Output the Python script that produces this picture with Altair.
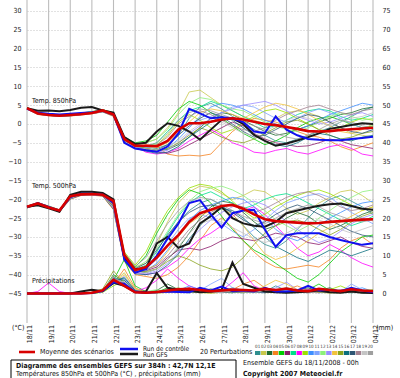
import altair as alt
import pandas as pd

# ---------------- data ----------------
DAY_LABELS = ["18/11", "19/11", "20/11", "21/11", "22/11", "23/11", "24/11", "25/11", "26/11",
              "27/11", "28/11", "29/11", "30/11", "01/12", "02/12", "03/12", "04/12"]
STEP_HOURS = 12
PREC_ZERO = -45  # 0 mm of precipitation sits on the -45 line of the temperature scale

MEMBER_NAMES = ["01", "02", "03", "04", "05", "06", "07", "08", "09", "10",
                "11", "12", "13", "14", "15", "16", "17", "18", "19", "20"]
MEMBER_COLORS = ["#2f8f8f", "#c8c84b", "#1f6b2f", "#f5821f", "#00cc00", "#8b1a6b", "#00e08a",
                 "#ff00ff", "#9be000", "#3f8fff", "#7fa3ff", "#8cf07a", "#9a8cff", "#f0c23c",
                 "#8aa41e", "#0a6f7f", "#2e5573", "#a3808f", "#c4c4c4", "#9f9f9f"]

MEAN_T850 = [4.2, 2.8, 2.4, 2.2, 2.4, 2.6, 2.9, 3.6, 2.5,
             -4.0, -5.8, -5.8, -5.9, -4.5, -1.5, 0.2, 0.2,
             0.6, 1.2, 1.5, 1.2, 0.6, 0.0, -0.3, -0.8,
             -1.3, -1.9, -2.0, -1.9, -1.6, -1.4, -1.2, -1.0]
CTRL_T850 = [4.0, 3.0, 2.7, 2.5, 2.7, 2.9, 3.1, 3.5, 2.5,
             -5.0, -6.5, -7.0, -7.4, -6.0, -2.5, 4.0, 2.8,
             1.5, 1.8, 1.5, 0.5, -2.0, -2.4, 2.0, -1.5,
             -3.0, -4.0, -4.2, -4.3, -4.3, -4.0, -3.7, -3.4]
GFS_T850 = [4.2, 3.5, 3.6, 3.4, 3.7, 4.3, 4.5, 3.6, 3.0,
            -3.5, -5.3, -5.0, -2.0, 0.2, -0.5, -2.0, -4.2,
            -1.5, 1.1, 1.5, 0.0, -2.9, -4.5, -5.8, -5.2,
            -4.4, -3.5, -2.5, -1.3, -0.8, -0.3, 0.2, 0.0]

MEAN_T500 = [-22.0, -21.1, -22.2, -23.0, -19.2, -18.7, -18.6, -18.8, -20.5,
             -34.8, -38.8, -38.0, -35.5, -32.3, -29.5, -26.0, -23.7,
             -22.8, -21.8, -21.5, -22.5, -24.0, -25.3, -25.8, -26.0,
             -26.2, -26.4, -26.3, -26.0, -25.8, -25.6, -25.4, -25.3]
CTRL_T500 = [-22.0, -21.0, -22.0, -23.0, -19.4, -18.5, -18.5, -18.8, -21.0,
             -36.0, -39.5, -38.5, -35.0, -30.5, -26.5, -21.0, -20.2,
             -24.0, -27.5, -23.7, -23.0, -22.8, -28.0, -32.6, -29.5,
             -29.0, -29.0, -29.0, -30.0, -30.8, -31.5, -32.1, -31.7]
GFS_T500 = [-22.0, -21.6, -22.4, -23.3, -18.8, -18.0, -18.0, -18.3, -20.0,
            -35.5, -38.5, -38.5, -31.7, -30.0, -32.9, -31.7, -26.4,
            -24.5, -22.0, -25.0, -26.4, -27.0, -27.3, -26.0, -23.7,
            -23.0, -22.3, -21.7, -21.3, -21.1, -21.8, -22.5, -22.8]

MEAN_PREC = [0, 0, 0, 0, 0, 0, 0.2, 0.8, 3.6,
             2.0, 0.3, 0.2, 0.4, 0.8, 1.1, 1.2, 0.9,
             0.6, 0.8, 1.0, 0.9, 0.8, 1.2, 0.9, 1.3,
             0.8, 0.6, 1.2, 0.9, 0.6, 1.1, 0.8, 0.6]
CTRL_PREC = [0, 0, 0, 0, 0, 0, 0.1, 0.6, 3.0,
             2.5, 0.4, 0.2, 0.3, 0.5, 0.4, 0.3, 1.5,
             0.8, 1.8, 0.6, 0.8, 0.5, 1.5, 0.5, 0.5,
             0.8, 2.0, 0.8, 1.0, 0.6, 1.5, 0.8, 0.3]
GFS_PREC = [0, 0, 0, 0, 0, 0.5, 1.0, 0.6, 2.8,
            2.0, 0.3, 0.5, 5.4, 1.5, 1.0, 0.8, 0.3,
            0.5, 1.0, 8.2, 2.5, 1.5, 0.5, 0.3, 0.2,
            0.3, 0.5, 0.8, 0.3, 0.2, 0.5, 0.2, 0.1]

PERT_T850 = [
    [4.0, 2.6, 2.3, 2.0, 2.2, 2.5, 2.8, 3.3, 2.2, -4.5, -6.0, -6.2, -6.5, -5.5, -3.0, 1.5, 4.5, 5.5, 4.0, 2.0, 0.5, -1.5, -3.0, -4.5, -5.0, -4.0, -3.0, -2.0, -1.0, 0.5, 2.0, 3.5, 4.5],
    [4.1, 2.8, 2.5, 2.1, 2.3, 2.6, 3.0, 3.6, 2.8, -3.8, -5.5, -5.0, -4.0, -1.0, 3.0, 8.5, 9.0, 7.0, 5.0, 3.5, 2.0, 1.0, 0.0, 1.5, 3.0, 3.5, 3.0, 2.0, 0.5, -1.0, -2.5, -3.0, -3.5],
    [4.3, 2.9, 2.6, 2.3, 2.5, 2.8, 3.1, 3.5, 2.6, -4.2, -5.8, -6.5, -7.0, -6.8, -5.5, -3.5, -1.0, 1.5, 3.0, 2.5, 1.0, -0.5, -2.0, -3.0, -2.5, -1.5, -0.5, 0.5, 1.5, 2.5, 3.0, 4.0, 4.5],
    [4.0, 2.5, 2.2, 2.0, 2.1, 2.4, 2.7, 3.2, 2.0, -5.0, -6.5, -5.5, -6.0, -8.0, -8.5, -8.3, -8.5, -8.0, -5.0, -2.0, 0.0, 1.5, 1.0, 0.5, -0.5, -2.0, -3.0, -3.5, -4.5, -6.0, -7.0, -6.0, -5.0],
    [4.4, 3.0, 2.7, 2.4, 2.6, 2.9, 3.3, 3.8, 3.0, -3.5, -5.0, -4.5, -3.0, 0.5, 4.0, 6.0, 5.0, 3.0, 1.5, -0.5, -2.5, -4.0, -5.5, -4.5, -3.0, -1.0, 0.5, 1.5, 2.0, 1.0, 0.0, -1.0, -0.5],
    [4.2, 2.7, 2.4, 2.2, 2.4, 2.7, 3.0, 3.4, 2.4, -4.8, -6.2, -6.8, -7.5, -7.8, -7.0, -5.5, -4.0, -2.5, -1.0, 0.5, -0.5, -2.5, -4.0, -5.0, -5.5, -6.0, -5.8, -5.0, -4.0, -4.5, -5.5, -6.0, -6.5],
    [4.1, 2.8, 2.5, 2.2, 2.4, 2.6, 2.9, 3.4, 2.5, -4.0, -5.5, -6.0, -5.0, -2.0, 1.0, 3.5, 4.5, 6.0, 5.0, 3.5, 2.0, 0.5, -1.0, -0.5, 1.0, 2.5, 3.5, 4.0, 3.5, 2.0, 1.0, 1.5, 2.5],
    [4.0, 2.6, 2.4, 2.1, 2.3, 2.5, 2.8, 3.3, 2.3, -4.5, -6.0, -7.5, -8.0, -7.5, -6.5, -4.5, -3.0, -1.5, -3.0, -5.0, -6.0, -7.5, -7.8, -7.0, -6.5, -7.5, -8.0, -7.0, -6.0, -5.5, -6.5, -8.0, -8.5],
    [4.3, 2.9, 2.6, 2.3, 2.4, 2.8, 3.2, 3.7, 2.7, -3.9, -5.6, -5.8, -5.5, -3.0, 0.5, 2.5, 1.0, -1.0, -2.5, -1.5, 0.5, 2.0, 3.5, 4.0, 3.0, 1.5, 0.0, -1.5, -2.0, -1.0, 0.5, 1.5, 1.0],
    [4.2, 2.8, 2.5, 2.2, 2.4, 2.7, 3.0, 3.5, 2.6, -4.6, -6.3, -7.0, -7.2, -6.5, -4.0, -1.0, 2.0, 4.5, 5.5, 5.0, 4.0, 2.5, 1.0, 0.0, -1.0, -1.5, -0.5, 1.0, 2.5, 3.5, 4.5, 5.5, 5.0],
    [4.0, 2.7, 2.3, 2.1, 2.2, 2.6, 2.9, 3.3, 2.4, -4.3, -6.0, -6.3, -6.0, -4.5, -2.0, 0.0, 1.0, 2.0, 3.0, 4.5, 5.0, 4.5, 3.0, 1.5, 0.5, 1.5, 3.0, 4.0, 3.0, 1.5, 0.0, -1.0, -2.0],
    [4.4, 2.9, 2.6, 2.3, 2.5, 2.8, 3.2, 3.6, 2.8, -3.7, -5.3, -5.0, -4.0, -1.5, 2.5, 5.5, 7.0, 6.5, 5.0, 4.0, 3.5, 2.0, 0.5, -0.5, -1.5, -2.0, -1.0, 0.5, 2.0, 3.0, 2.0, 1.0, 1.5],
    [4.1, 2.7, 2.4, 2.1, 2.3, 2.6, 2.9, 3.4, 2.3, -4.7, -6.4, -7.0, -7.5, -7.0, -5.0, -2.5, -0.5, 1.5, 3.0, 4.0, 5.0, 5.5, 6.0, 5.0, 3.5, 2.0, 1.0, 0.0, 0.5, 1.5, 2.5, 3.0, 2.0],
    [4.2, 2.8, 2.5, 2.2, 2.4, 2.7, 3.0, 3.5, 2.5, -4.2, -5.8, -6.0, -6.2, -5.0, -2.5, 0.5, 3.0, 4.0, 3.5, 2.5, 1.5, 3.0, 4.5, 5.5, 5.0, 4.0, 2.5, 1.0, -0.5, -2.0, -2.5, -1.5, 0.0],
    [4.3, 2.9, 2.6, 2.3, 2.5, 2.8, 3.1, 3.6, 2.7, -4.0, -5.7, -6.5, -7.0, -6.5, -5.0, -3.0, -1.0, -2.0, -3.5, -4.5, -5.0, -4.0, -2.5, -1.0, 0.5, 1.0, 0.0, -1.5, -3.0, -4.0, -3.5, -2.5, -2.0],
    [4.0, 2.6, 2.3, 2.0, 2.2, 2.5, 2.8, 3.2, 2.2, -4.8, -6.5, -7.2, -7.8, -7.5, -6.0, -3.5, -1.5, 0.5, 2.0, 1.0, -1.0, -3.0, -4.5, -5.5, -6.0, -5.0, -3.5, -2.5, -3.0, -4.0, -4.5, -3.5, -3.0],
    [4.1, 2.7, 2.4, 2.1, 2.3, 2.6, 2.9, 3.3, 2.4, -4.4, -6.0, -6.8, -7.0, -5.5, -3.0, -0.5, 1.5, 3.0, 2.0, 0.0, -2.0, -3.5, -3.0, -1.5, 0.0, 1.5, 2.5, 2.0, 0.5, -1.0, -2.0, -2.5, -1.5],
    [4.2, 2.8, 2.5, 2.2, 2.4, 2.7, 3.0, 3.4, 2.5, -4.1, -5.6, -6.0, -5.5, -3.5, 0.0, 2.0, 3.5, 2.5, 1.0, -0.5, -1.5, -2.0, -1.0, 1.0, 2.5, 3.5, 4.5, 5.0, 4.0, 3.0, 2.5, 3.5, 4.0],
    [4.0, 2.6, 2.3, 2.1, 2.2, 2.5, 2.8, 3.2, 2.3, -4.6, -6.2, -6.6, -7.0, -6.0, -4.5, -2.0, 0.0, 1.0, 0.5, -1.0, -2.5, -3.0, -2.0, -0.5, 1.0, 2.0, 1.5, 0.5, -0.5, 0.5, 1.5, 2.0, 3.0],
    [4.3, 2.9, 2.6, 2.3, 2.5, 2.8, 3.1, 3.5, 2.6, -4.0, -5.5, -5.8, -5.0, -2.5, 1.0, 3.0, 4.0, 3.5, 2.5, 1.5, 0.5, -0.5, -1.5, -2.5, -3.5, -4.0, -3.0, -1.5, 0.0, 1.0, 0.5, -0.5, -1.0],
]

PERT_T500 = [
    [-22.2, -21.3, -22.3, -23.3, -19.8, -18.8, -18.7, -19.0, -22.5, -36.0, -39.5, -38.5, -35.0, -30.0, -26.0, -23.0, -21.0, -20.0, -21.5, -24.0, -27.0, -30.0, -32.0, -33.0, -31.0, -28.0, -25.0, -22.0, -20.0, -19.0, -20.5, -22.0, -24.0],
    [-21.8, -21.0, -21.8, -22.8, -19.2, -18.3, -18.4, -18.6, -20.8, -34.0, -38.0, -37.0, -32.0, -26.0, -21.0, -18.0, -16.5, -17.0, -18.5, -20.0, -19.0, -17.5, -18.0, -20.0, -22.5, -24.0, -23.0, -21.0, -19.5, -18.0, -17.5, -19.0, -21.0],
    [-22.0, -21.2, -22.1, -23.1, -19.6, -18.7, -18.6, -18.9, -21.8, -35.5, -39.0, -39.5, -38.5, -36.0, -33.0, -29.0, -25.0, -22.0, -20.5, -21.0, -23.5, -26.0, -28.0, -27.0, -25.0, -23.5, -24.5, -26.5, -28.0, -27.0, -25.5, -24.0, -23.0],
    [-22.3, -21.4, -22.2, -23.4, -20.0, -19.0, -18.9, -19.2, -22.8, -36.5, -40.0, -40.5, -41.0, -40.0, -38.0, -35.0, -31.0, -27.0, -25.0, -27.5, -31.0, -34.0, -36.5, -38.0, -38.5, -38.0, -37.5, -38.0, -36.0, -33.0, -31.0, -30.0, -32.0],
    [-21.9, -21.0, -21.9, -22.9, -19.3, -18.4, -18.3, -18.5, -21.0, -34.5, -38.0, -35.0, -29.0, -24.0, -20.0, -17.5, -18.5, -21.0, -24.5, -28.0, -31.0, -33.5, -35.0, -37.0, -39.0, -41.0, -42.0, -40.0, -37.0, -34.0, -32.0, -30.0, -29.5],
    [-22.1, -21.2, -22.0, -23.1, -19.7, -18.8, -18.6, -18.9, -22.2, -35.8, -39.2, -39.0, -38.0, -35.5, -33.5, -33.0, -33.5, -32.5, -31.0, -30.0, -30.5, -31.0, -30.0, -29.0, -29.5, -30.0, -31.5, -32.0, -31.0, -30.0, -31.5, -32.5, -33.0],
    [-22.0, -21.1, -22.0, -23.0, -19.4, -18.5, -18.5, -18.7, -21.4, -35.0, -38.6, -37.5, -34.0, -29.0, -24.5, -21.0, -19.0, -18.0, -19.5, -21.0, -22.5, -21.5, -20.0, -19.0, -18.5, -19.5, -21.0, -22.5, -24.0, -25.5, -27.0, -26.0, -24.5],
    [-22.2, -21.3, -22.2, -23.2, -19.8, -18.8, -18.8, -19.0, -22.4, -36.0, -39.5, -40.0, -39.5, -38.0, -36.0, -33.0, -30.5, -29.0, -27.0, -24.5, -23.0, -22.0, -24.0, -27.0, -30.0, -33.0, -35.0, -34.0, -32.0, -33.5, -35.5, -37.0, -38.0],
    [-21.8, -20.9, -21.8, -22.8, -19.1, -18.2, -18.3, -18.5, -20.6, -34.0, -37.5, -34.0, -28.0, -23.0, -19.5, -17.0, -16.0, -16.5, -18.0, -20.5, -23.0, -25.0, -24.0, -22.0, -20.5, -19.0, -18.0, -17.5, -18.5, -20.0, -21.5, -23.0, -22.0],
    [-22.1, -21.2, -22.1, -23.1, -19.6, -18.7, -18.7, -18.9, -22.0, -35.6, -39.2, -39.0, -37.0, -33.5, -29.5, -25.5, -23.0, -21.5, -20.5, -19.5, -20.0, -22.0, -25.0, -28.0, -30.0, -31.0, -29.5, -27.0, -25.0, -23.5, -22.0, -21.0, -20.5],
    [-22.0, -21.1, -22.0, -23.0, -19.5, -18.6, -18.6, -18.8, -21.6, -35.2, -38.8, -38.5, -36.0, -32.0, -28.0, -25.0, -24.0, -25.0, -26.5, -28.5, -30.0, -28.0, -25.5, -23.0, -21.0, -20.0, -19.0, -18.5, -19.5, -21.5, -23.5, -25.0, -26.5],
    [-21.9, -21.0, -21.9, -22.9, -19.3, -18.4, -18.4, -18.6, -21.2, -34.8, -38.2, -36.5, -33.0, -28.5, -24.0, -20.5, -18.0, -17.0, -16.5, -17.5, -19.0, -21.0, -23.0, -25.5, -27.0, -28.5, -27.0, -25.0, -23.0, -21.0, -19.5, -18.0, -17.5],
    [-22.2, -21.3, -22.2, -23.2, -19.7, -18.8, -18.7, -19.0, -22.3, -35.9, -39.4, -39.8, -39.0, -37.0, -34.0, -31.0, -28.0, -25.5, -23.5, -22.0, -21.0, -20.5, -21.5, -23.5, -26.0, -28.0, -30.0, -31.5, -30.5, -28.5, -26.5, -25.0, -24.0],
    [-22.0, -21.1, -22.0, -23.0, -19.4, -18.5, -18.5, -18.8, -21.5, -35.3, -38.9, -38.5, -37.5, -34.0, -30.0, -26.5, -24.5, -23.0, -22.5, -24.0, -27.0, -31.0, -34.5, -36.0, -35.0, -33.0, -31.0, -29.0, -27.5, -26.0, -24.5, -23.0, -22.0],
    [-22.1, -21.2, -22.1, -23.1, -19.6, -18.7, -18.6, -18.9, -22.0, -35.6, -39.1, -39.2, -38.5, -36.5, -35.0, -36.0, -37.5, -38.5, -39.0, -38.0, -35.5, -32.0, -29.0, -27.0, -26.0, -25.5, -26.5, -28.0, -29.5, -28.0, -26.0, -24.5, -23.5],
    [-22.3, -21.4, -22.3, -23.3, -19.9, -18.9, -18.8, -19.1, -22.6, -36.2, -39.8, -40.0, -39.5, -37.5, -34.5, -30.5, -27.0, -24.0, -22.5, -23.0, -25.0, -27.5, -30.0, -32.5, -34.0, -35.5, -36.5, -35.0, -33.5, -34.0, -35.0, -34.0, -33.0],
    [-21.9, -21.0, -21.9, -22.9, -19.3, -18.4, -18.4, -18.7, -21.3, -34.9, -38.4, -37.0, -33.5, -29.5, -26.0, -23.5, -22.0, -21.5, -22.0, -23.5, -25.5, -27.0, -26.0, -24.0, -22.5, -21.5, -22.5, -24.0, -25.5, -27.0, -28.5, -29.5, -30.0],
    [-22.0, -21.1, -22.0, -23.0, -19.5, -18.6, -18.6, -18.8, -21.7, -35.4, -39.0, -38.8, -37.5, -35.0, -31.5, -28.0, -25.5, -23.5, -22.0, -21.5, -22.0, -23.5, -22.5, -21.0, -19.5, -18.5, -18.0, -19.0, -20.5, -22.0, -23.0, -22.5, -21.5],
    [-22.2, -21.3, -22.2, -23.2, -19.8, -18.8, -18.8, -19.0, -22.4, -36.0, -39.6, -39.5, -38.5, -36.0, -32.5, -29.0, -26.5, -25.5, -26.0, -27.5, -29.0, -30.5, -31.5, -30.5, -29.0, -27.5, -26.0, -25.5, -26.5, -28.0, -29.0, -28.0, -27.0],
    [-21.8, -20.9, -21.8, -22.8, -19.2, -18.3, -18.3, -18.6, -20.9, -34.3, -37.8, -35.5, -31.0, -26.5, -23.0, -20.5, -19.5, -20.0, -21.5, -23.0, -24.5, -25.5, -26.5, -25.0, -23.5, -22.5, -21.5, -22.0, -23.5, -24.5, -25.5, -26.0, -25.5],
]

PERT_PREC = [
    [0, 0, 0, 0, 0, 0, 0.2, 0.8, 4.0, 2.0, 0.3, 0, 0.2, 0.5, 0.3, 0.8, 0.5, 0.2, 0.5, 1.5, 0.8, 0.3, 0.5, 2.0, 0.8, 0.3, 0.2, 0.5, 1.0, 0.5, 0.2, 0.3, 0.5],
    [0, 0, 0, 0, 0, 0, 0.1, 0.5, 3.0, 5.5, 1.0, 0.2, 0, 0.3, 1.0, 0.5, 0.2, 0, 0.3, 0.5, 0.2, 0.8, 1.5, 0.5, 0.2, 0.5, 1.2, 0.3, 0.1, 0.2, 0.8, 0.3, 0.1],
    [0, 0, 0, 0, 0, 0, 0, 0.6, 5.0, 3.0, 0.5, 0.3, 0.8, 2.5, 1.0, 0.3, 0.5, 1.2, 0.5, 0.3, 0.2, 0.5, 0.8, 0.3, 1.0, 0.5, 0.3, 0.8, 1.5, 0.5, 0.3, 0.8, 0.4],
    [0, 0, 0, 0, 0, 0, 0.3, 1.0, 2.5, 6.5, 1.5, 0.2, 0.5, 0.3, 0.2, 0.5, 1.0, 0.5, 0.3, 1.0, 2.5, 3.5, 1.5, 0.5, 1.0, 2.0, 0.8, 0.5, 0.3, 0.8, 1.5, 0.5, 0.3],
    [0, 0, 0, 0, 0, 0, 0, 0.4, 3.5, 9.0, 2.0, 0.5, 0.3, 1.5, 0.5, 0.2, 0.5, 0.8, 0.3, 0.2, 0.5, 1.0, 0.5, 0.3, 0.2, 0.5, 1.0, 2.5, 0.8, 0.3, 0.5, 0.2, 0.3],
    [0, 0, 0, 0, 0, 0, 0.1, 0.7, 4.5, 2.5, 0.4, 0.2, 0.3, 0.5, 0.8, 1.5, 0.5, 0.3, 0.8, 0.5, 0.3, 0.5, 1.2, 0.8, 0.3, 0.5, 0.3, 0.2, 0.5, 1.0, 0.5, 0.3, 0.5],
    [0, 0, 0, 0, 0, 0, 0.2, 0.9, 3.8, 4.0, 0.8, 0.3, 0.2, 0.5, 1.2, 0.8, 0.3, 0.5, 1.0, 0.3, 0.2, 0.5, 0.3, 0.8, 1.5, 0.8, 0.3, 0.5, 0.8, 0.3, 0.2, 0.5, 0.8],
    [0, 0.5, 2.8, 0.5, 0, 0, 0.1, 0.6, 3.2, 2.8, 0.5, 1.5, 3.5, 6.5, 4.0, 2.0, 1.0, 0.5, 0.8, 3.0, 5.5, 2.0, 0.8, 0.5, 0.3, 0.5, 1.0, 0.5, 0.3, 0.8, 0.5, 0.3, 0.2],
    [0, 0, 0, 0, 0, 0, 0, 0.3, 2.0, 3.5, 0.8, 0.2, 0.3, 0.8, 0.5, 0.3, 0.5, 1.0, 0.5, 0.3, 0.8, 0.5, 0.2, 0.3, 0.5, 0.8, 0.5, 0.3, 1.0, 2.0, 0.8, 0.5, 0.3],
    [0, 0, 0, 0, 0, 0, 0.2, 0.8, 4.2, 3.0, 0.5, 0.3, 0.5, 0.3, 0.8, 2.0, 1.0, 0.5, 0.3, 0.5, 0.8, 0.3, 0.2, 0.5, 0.8, 0.3, 0.5, 0.2, 0.3, 0.5, 0.8, 1.5, 0.5],
    [0, 0, 0, 0, 0, 0, 0.1, 0.5, 3.0, 4.5, 1.0, 0.2, 0.3, 0.5, 0.3, 0.5, 0.8, 2.5, 4.0, 1.5, 0.5, 0.3, 0.5, 0.2, 0.3, 0.5, 0.3, 0.8, 0.5, 0.3, 2.5, 1.0, 0.3],
    [0, 0, 0, 0, 0, 0, 0, 0.6, 4.8, 2.2, 0.3, 0.5, 1.0, 0.5, 0.3, 0.2, 0.5, 0.3, 0.5, 0.8, 0.3, 0.2, 0.5, 0.8, 0.5, 0.3, 0.5, 1.0, 0.5, 0.2, 0.3, 0.5, 0.8],
    [0, 0, 0, 0, 0, 0, 0.2, 0.7, 3.5, 3.8, 0.6, 0.3, 0.2, 0.5, 0.3, 0.8, 1.2, 0.5, 0.3, 0.5, 1.0, 0.5, 0.3, 1.5, 3.0, 1.0, 0.5, 0.3, 0.5, 0.3, 0.5, 0.8, 0.3],
    [0, 0, 0, 0, 0, 0, 0.1, 0.4, 2.8, 5.0, 1.2, 0.3, 0.5, 0.3, 0.5, 0.3, 0.2, 0.5, 0.8, 0.5, 0.3, 0.8, 2.0, 3.5, 2.5, 1.0, 0.5, 0.3, 0.5, 0.8, 0.3, 0.2, 0.5],
    [0, 0, 0, 0, 0, 0, 0.3, 1.2, 6.0, 2.5, 0.4, 0.2, 0.3, 0.8, 1.5, 0.5, 0.3, 0.2, 0.5, 0.3, 0.5, 0.3, 0.8, 0.5, 0.3, 0.5, 0.8, 0.3, 0.2, 0.5, 0.3, 0.8, 1.0],
    [0, 0, 0, 0, 0, 0, 0.2, 0.8, 4.0, 3.5, 0.5, 0.3, 0.5, 1.0, 0.5, 0.3, 0.5, 0.8, 0.3, 0.2, 0.5, 0.3, 0.5, 1.0, 0.5, 0.3, 0.5, 0.8, 0.3, 0.5, 1.0, 0.5, 0.3],
    [0, 0, 0, 0, 0, 0, 0.1, 0.5, 3.2, 4.2, 0.8, 0.2, 0.3, 0.5, 0.8, 0.3, 0.5, 0.3, 0.5, 1.0, 0.5, 0.3, 0.2, 0.5, 0.3, 0.8, 1.5, 0.5, 0.3, 0.5, 0.8, 0.3, 0.2],
    [0, 0, 0, 0, 0, 0, 0.2, 0.6, 3.8, 2.8, 0.5, 0.3, 0.2, 0.3, 0.5, 0.8, 0.3, 0.5, 0.3, 0.5, 0.3, 0.8, 0.5, 0.3, 0.5, 0.3, 0.2, 0.5, 0.8, 0.5, 0.3, 0.5, 0.5],
    [0, 0, 0, 0, 0, 0, 0.1, 0.5, 3.0, 3.2, 0.5, 0.2, 0.3, 0.5, 0.3, 0.5, 0.8, 0.5, 0.3, 0.8, 0.5, 0.3, 0.5, 0.3, 0.8, 0.5, 0.3, 0.5, 0.3, 0.5, 0.3, 0.5, 0.4],
    [0, 0, 0, 0, 0, 0, 0.2, 0.7, 4.3, 2.6, 0.4, 0.3, 0.5, 0.3, 0.5, 0.3, 0.5, 0.8, 0.5, 0.3, 0.5, 0.3, 0.8, 0.5, 0.3, 0.5, 0.3, 0.5, 0.8, 0.5, 0.3, 0.5, 0.3],
]

TITLE_1 = "Diagramme des ensembles GEFS sur 384h : 42,7N 12,1E"
TITLE_2 = "Températures 850hPa et 500hPa (°C) , précipitations (mm)"
RUN_TEXT = "Ensemble GEFS du 18/11/2008 - 00h"
COPYRIGHT = "Copyright 2007 Meteociel.fr"

# ---------------- frames ----------------
def rows(values, var, name):
    off = PREC_ZERO if var == "prec" else 0
    return [{"day": i * STEP_HOURS / 24, "value": v + off, "var": var, "name": name}
            for i, v in enumerate(values)]

pert_rows = []
for m, name in enumerate(MEMBER_NAMES):
    pert_rows += rows(PERT_T850[m], "t850", name)
    pert_rows += rows(PERT_T500[m], "t500", name)
    pert_rows += rows(PERT_PREC[m], "prec", name)
pert_df = pd.DataFrame(pert_rows)

def main_df(t850, t500, prec, name):
    return pd.DataFrame(rows(t850, "t850", name) + rows(t500, "t500", name) + rows(prec, "prec", name))

mean_df = main_df(MEAN_T850, MEAN_T500, MEAN_PREC, "mean")
ctrl_df = main_df(CTRL_T850, CTRL_T500, CTRL_PREC, "ctrl")
gfs_df = main_df(GFS_T850, GFS_T500, GFS_PREC, "gfs")
days_df = pd.DataFrame({"day": [float(d) for d in range(len(DAY_LABELS))], "lab": DAY_LABELS})

# ---------------- layout ----------------
OX = 27          # left padding: plot-area origin in page pixels
PLOT_W, PLOT_H = 346, 323
FONT = "Liberation Sans Narrow, DejaVu Sans Condensed, Liberation Sans, sans-serif"

xs = alt.Scale(domain=[0, 16], nice=False, zero=False)
ys = alt.Scale(domain=[-52.85, 32.92], nice=False, zero=False)
YTICKS = list(range(-45, 31, 5))

y_axis_left = alt.Axis(values=YTICKS, grid=True, gridColor="#c4c4c4", gridDash=[1, 2],
                       domain=False, ticks=False, labelPadding=6, labelFontSize=7,
                       labelFont=FONT, labelColor="#222", title=None)
y_axis_right = alt.Axis(orient="right", values=YTICKS, labelExpr="datum.value + 45", grid=False,
                        domain=False, ticks=False, labelPadding=9, labelFontSize=7,
                        labelFont=FONT, labelColor="#222", title=None)
color_scale = alt.Scale(domain=MEMBER_NAMES, range=MEMBER_COLORS)

# vertical day grid: rule spanning the whole plot height
vgrid = alt.Chart(days_df).mark_rule(color="#bcbcbc", strokeWidth=1.1, opacity=1).encode(
    x=alt.X("day:Q", scale=xs, axis=None))
day_text = alt.Chart(days_df).mark_text(
    angle=270, align="right", baseline="middle", dy=3, fontSize=7, font=FONT, color="#222"
).encode(x=alt.X("day:Q", scale=xs, axis=None), y=alt.value(PLOT_H + 2), text="lab:N")

pert = alt.Chart(pert_df).mark_line(strokeWidth=0.8).encode(
    x=alt.X("day:Q", scale=xs, axis=None),
    y=alt.Y("value:Q", scale=ys, axis=y_axis_left),
    color=alt.Color("name:N", scale=color_scale, legend=None),
    detail="var:N",
)

def main_line(df, color, width, axis):
    return alt.Chart(df).mark_line(color=color, strokeWidth=width).encode(
        x=alt.X("day:Q", scale=xs, axis=None),
        y=alt.Y("value:Q", scale=ys, axis=axis),
        detail="var:N",
    )

gfs = main_line(gfs_df, "#1a1a1a", 2, None)
ctrl = main_line(ctrl_df, "#1010f0", 2, None)
mean = main_line(mean_df, "#d80000", 2.6, y_axis_right)

# ---------------- annotations / legend (page pixel positions) ----------------
def label(text, x, y, size=7, weight="normal", color="#111"):
    return alt.Chart(pd.DataFrame({"t": [text]})).mark_text(
        align="left", baseline="middle", fontSize=size, fontWeight=weight, font=FONT, color=color
    ).encode(x=alt.value(x - OX), y=alt.value(y), text="t:N")

def seg(x1, x2, y, color, width):
    return alt.Chart(pd.DataFrame({"a": [0]})).mark_rule(color=color, strokeWidth=width).encode(
        x=alt.value(x1 - OX), x2=alt.value(x2 - OX), y=alt.value(y))

box = alt.Chart(pd.DataFrame({"a": [0]})).mark_rect(fill="white", stroke="#000", strokeWidth=1).encode(
    x=alt.value(11 - OX), x2=alt.value(236 - OX), y=alt.value(360), y2=alt.value(392))

sw = pd.DataFrame({"name": MEMBER_NAMES, "i": list(range(len(MEMBER_NAMES)))})
sw["px0"] = 255 - OX + sw["i"] * 5.93
sw["px1"] = sw["px0"] + 5.4
sw["pxc"] = sw["px0"] + 2.7
swatches = alt.Chart(sw).mark_rect().encode(
    x=alt.X("px0:Q", scale=None, axis=None), x2="px1:Q",
    y=alt.value(351), y2=alt.value(355),
    color=alt.Color("name:N", scale=color_scale, legend=None),
)
swatch_labels = alt.Chart(sw).mark_text(fontSize=4.5, font=FONT, color="#333", baseline="middle").encode(
    x=alt.X("pxc:Q", scale=None, axis=None), y=alt.value(347), text="name:N")

chart = alt.layer(
    vgrid, pert, gfs, ctrl, mean, day_text,
    label("Temp. 850hPa", 32, 101), label("Temp. 500hPa", 32, 186), label("Précipitations", 32, 281),
    label("(°C)", 12, 328), label("(mm)", 376, 328),
    seg(19, 35, 352, "#d80000", 2.6), label("Moyenne des scénarios", 40, 352),
    seg(120, 138, 349, "#1010f0", 2.5), seg(120, 138, 354, "#1a1a1a", 2.5),
    label("Run de contrôle", 143, 348.5, size=6.5), label("Run GFS", 143, 355, size=6.5),
    label("20 Perturbations", 200, 352),
    swatches, swatch_labels,
    box,
    label(TITLE_1, 16, 366, weight="bold"), label(TITLE_2, 16, 373.5),
    label(RUN_TEXT, 243, 363), label(COPYRIGHT, 243, 373.5, weight="bold"),
).resolve_axis(y="independent").properties(
    width=PLOT_W, height=PLOT_H,
    padding={"left": OX, "top": 0, "right": 400 - OX - PLOT_W, "bottom": 378 - PLOT_H},
    autosize=alt.AutoSizeParams(type="none"),
    background="white",
).configure_view(stroke=None)

chart.save("out.html", embed_options={"renderer": "svg", "actions": False})
